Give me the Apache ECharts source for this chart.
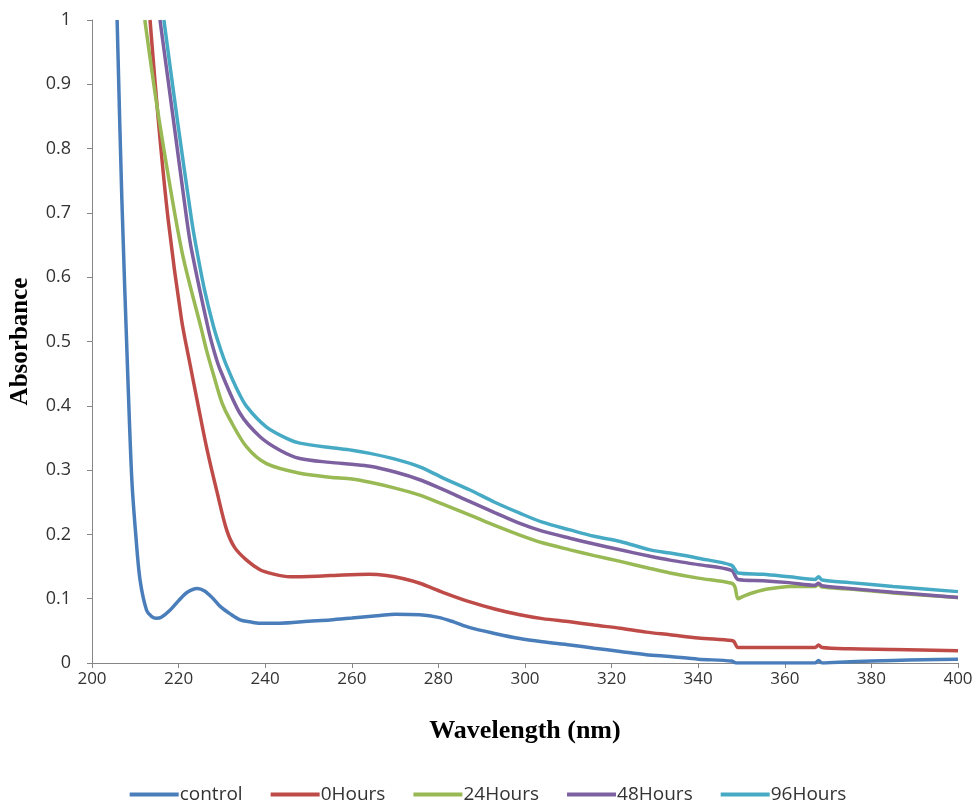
<!DOCTYPE html>
<html>
<head>
<meta charset="utf-8">
<script src="https://cdn.jsdelivr.net/npm/echarts@6/dist/echarts.min.js"></script>
<style>
html,body{margin:0;padding:0;background:#fff;}
#chart{width:976px;height:802px;}
</style>
</head>
<body>
<div id="chart"></div>
<script>
var seriesNames = ['control', '0Hours', '24Hours', '48Hours', '96Hours'];
var xTicks = [200, 220, 240, 260, 280, 300, 320, 340, 360, 380, 400];

var controlWl  = [205.8, 206.9, 208.3, 209.2, 210.1, 211.1, 212.6, 213.8, 214.9, 216, 218, 220, 222, 224.3, 226, 228, 229.6, 232, 234.2, 236.5, 238.8, 243.4, 250, 255, 260, 266.5, 270, 275.7, 280, 283.5, 287.3, 293, 298.8, 304, 310.4, 316, 322, 328, 333.5, 340, 347.7, 348.8, 355, 362, 367, 367.8, 368.6, 375, 385, 392, 400];
var controlAbs = [1.0, 0.72, 0.44, 0.285, 0.2, 0.129, 0.082, 0.072, 0.0695, 0.071, 0.082, 0.097, 0.11, 0.116, 0.112, 0.1, 0.088, 0.076, 0.067, 0.064, 0.062, 0.062, 0.065, 0.067, 0.07, 0.074, 0.076, 0.075, 0.071, 0.064, 0.055, 0.046, 0.038, 0.033, 0.028, 0.023, 0.018, 0.013, 0.010, 0.006, 0.003, 0.0, 0.0, 0.0, 0.0, 0.004, 0.0, 0.002, 0.004, 0.005, 0.006];

var h0Wl  = [213.4, 215.3, 217.6, 220.7, 222.6, 224.5, 226.6, 228.8, 231.1, 233.0, 235.7, 238.8, 241.5, 245.7, 252, 258, 264, 268, 272, 275.7, 281, 287.3, 293, 298.8, 304, 310.4, 316, 322, 328, 333.5, 340, 347.7, 348.3, 349.2, 355, 362, 367, 367.8, 368.6, 375, 385, 400];
var h0Abs = [1.0, 0.845, 0.689, 0.533, 0.466, 0.401, 0.331, 0.268, 0.207, 0.179, 0.160, 0.145, 0.139, 0.134, 0.135, 0.137, 0.138, 0.136, 0.131, 0.124, 0.11, 0.095, 0.084, 0.075, 0.069, 0.064, 0.059, 0.054, 0.048, 0.044, 0.039, 0.035, 0.033, 0.024, 0.024, 0.024, 0.024, 0.028, 0.024, 0.022, 0.021, 0.019];

var h24Wl  = [212.2, 215.5, 220.7, 225.3, 226.5, 228.2, 230.0, 231.9, 235.7, 240.3, 248, 255, 260, 264.2, 270, 275.7, 281, 287.3, 293, 298.8, 304, 310.4, 316, 322, 328.9, 333.5, 340, 347.7, 348.5, 349.2, 350.5, 353, 356, 361.2, 367, 367.8, 368.6, 375, 385, 400];
var h24Abs = [1.0, 0.845, 0.642, 0.518, 0.485, 0.445, 0.405, 0.378, 0.336, 0.31, 0.295, 0.289, 0.286, 0.281, 0.272, 0.261, 0.247, 0.23, 0.214, 0.199, 0.187, 0.176, 0.167, 0.158, 0.147, 0.140, 0.132, 0.124, 0.118, 0.100, 0.104, 0.110, 0.115, 0.119, 0.119, 0.122, 0.118, 0.115, 0.109, 0.102];

var h48Wl  = [215.7, 218.8, 221.9, 223.0, 226.9, 228.4, 229.6, 234.2, 238.8, 243.4, 248, 255, 260, 264.2, 270, 275.7, 281, 287.3, 293, 298.8, 304, 310.4, 316, 322, 328.9, 333.5, 340, 347.7, 349.2, 355, 361, 367, 367.8, 368.6, 375, 385, 400];
var h48Abs = [1.0, 0.845, 0.689, 0.642, 0.518, 0.48, 0.456, 0.388, 0.352, 0.331, 0.318, 0.312, 0.309, 0.306, 0.297, 0.285, 0.27, 0.251, 0.234, 0.217, 0.205, 0.194, 0.185, 0.176, 0.166, 0.160, 0.153, 0.144, 0.130, 0.128, 0.125, 0.121, 0.124, 0.120, 0.116, 0.110, 0.102];

var h96Wl  = [216.6, 219.7, 223.0, 224.2, 226.0, 228.0, 229.6, 231.1, 233.4, 235.7, 240.3, 245.7, 248, 255, 260, 264.2, 270, 275.7, 281, 287.3, 293, 298.8, 304, 310.4, 316, 322, 328.9, 333.5, 340, 347.7, 349.2, 355, 361, 367, 367.8, 368.6, 375, 385, 400];
var h96Abs = [1.0, 0.845, 0.689, 0.642, 0.58, 0.525, 0.49, 0.462, 0.427, 0.399, 0.367, 0.347, 0.342, 0.335, 0.331, 0.326, 0.317, 0.305, 0.288, 0.269, 0.25, 0.233, 0.219, 0.207, 0.197, 0.189, 0.176, 0.171, 0.163, 0.152, 0.140, 0.138, 0.134, 0.130, 0.134, 0.129, 0.125, 0.119, 0.111];

var colors = ['#4A7EBB', '#BE4B48', '#98B954', '#7D60A0', '#46AAC5'];

function pairs(xs, ys) { return xs.map(function (x, i) { return [x, ys[i]]; }); }
var allWl = [controlWl, h0Wl, h24Wl, h48Wl, h96Wl];
var allAbs = [controlAbs, h0Abs, h24Abs, h48Abs, h96Abs];

var chart = echarts.init(document.getElementById('chart'), null, {renderer: 'canvas'});
var font = '"Open Sans", Lato, sans-serif';
var serif = '"Liberation Serif", "DejaVu Serif", serif';
chart.setOption({
  animation: false,
  backgroundColor: '#ffffff',
  color: colors,
  grid: {left: 92, right: 18, top: 20, bottom: 139, containLabel: false},
  legend: {
    top: 780, left: 'center',
    data: seriesNames,
    icon: 'rect', itemWidth: 49, itemHeight: 4, itemGap: 28,
    textStyle: {fontFamily: font, fontSize: 19, color: '#333', padding: [0, 0, 0, -4]}
  },
  xAxis: {
    type: 'value', min: 200, max: 400, interval: 20,
    name: 'Wavelength (nm)', nameLocation: 'middle', nameGap: 55,
    nameTextStyle: {fontFamily: serif, fontWeight: 'bold', fontSize: 26, color: '#000'},
    axisLine: {show: true, onZero: false, lineStyle: {color: '#868686', width: 1}},
    axisTick: {show: true, length: 5, lineStyle: {color: '#868686'}},
    axisLabel: {fontFamily: font, fontSize: 17, color: '#333', margin: 8,
      customValues: xTicks},
    splitLine: {show: false}
  },
  yAxis: {
    type: 'value', min: 0, max: 1, interval: 0.1,
    name: 'Absorbance', nameLocation: 'middle', nameGap: 59, nameRotate: 90,
    nameTextStyle: {fontFamily: serif, fontWeight: 'bold', fontSize: 25, color: '#000'},
    axisLine: {show: true, lineStyle: {color: '#868686', width: 1}},
    axisTick: {show: true, length: 5, lineStyle: {color: '#868686'}},
    axisLabel: {fontFamily: font, fontSize: 18, color: '#333', margin: 21,
      formatter: function (v) { return String(Math.round(v * 10) / 10); }},
    splitLine: {show: false}
  },
  series: seriesNames.map(function (n, i) {
    return {
      name: n, type: 'line', data: pairs(allWl[i], allAbs[i]),
      showSymbol: false, symbol: 'none', smooth: 0.3,
      clip: true,
      lineStyle: {width: 3.5, color: colors[i]}
    };
  })
});
</script>
</body>
</html>
